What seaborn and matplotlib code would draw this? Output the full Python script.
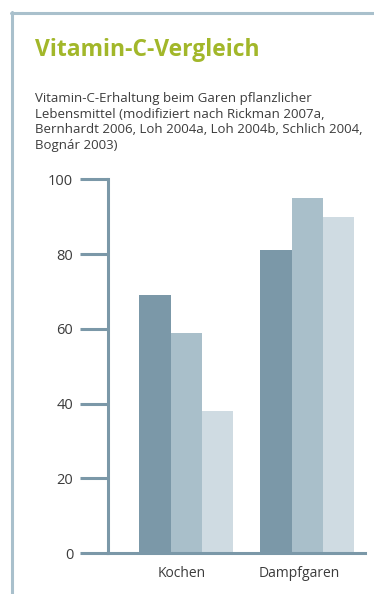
import seaborn as sns
import matplotlib.pyplot as plt
import matplotlib.transforms as mtransforms
import pandas as pd

methods = ["Kochen", "Dampfgaren"]
series = ["Studie A", "Studie B", "Studie C"]
kochen = [69, 59, 38]
dampfgaren = [81, 95, 90]
yticks = [0, 20, 40, 60, 80, 100]

colors = ["#7b98a8", "#a9bfca", "#cfdbe2"]
axis_col = "#7b98a8"
frame_col = "#a9c0cc"
text_col = "#3c3c3c"

df = pd.DataFrame({
    "Methode": [m for m in methods for _ in series],
    "Serie": series * 2,
    "Wert": kochen + dampfgaren,
})

sns.set_theme(style="white")
plt.rcParams["font.family"] = ["Open Sans", "DejaVu Sans"]

fig = plt.figure(figsize=(3.74, 5.94), dpi=100)
ax = fig.add_axes([108 / 374, 1 - 553.3 / 594, 257 / 374, 374 / 594])

sns.barplot(data=df, x="Methode", y="Wert", hue="Serie", palette=colors,
            width=0.77, gap=0, legend=False, saturation=1, linewidth=0, ax=ax)

ax.set_ylim(0, 100)
ax.set_xlim(-0.645, 1.479)
ax.set_yticks(yticks)
ax.set_xlabel("")
ax.set_ylabel("")
sns.despine(ax=ax, top=True, right=True)
for s in ["left", "bottom"]:
    ax.spines[s].set_color(axis_col)
    ax.spines[s].set_linewidth(2.2)
ax.tick_params(axis="y", direction="out", length=20, width=2.2, color=axis_col,
               labelsize=10.5, labelcolor=text_col, pad=5, left=True)
ax.tick_params(axis="x", length=0, labelsize=10, labelcolor=text_col, pad=9)
# labels sit slightly left of the group centres in the original
for t, dx in zip(ax.get_xticklabels(), [-4, -8]):
    t.set_transform(t.get_transform() + mtransforms.ScaledTranslation(dx / 100, 0, fig.dpi_scale_trans))

# frame lines
fig.add_artist(plt.Line2D([12 / 374, 12 / 374], [0, 1 - 12 / 594], color=frame_col, lw=2.2))
fig.add_artist(plt.Line2D([11 / 374, 1], [1 - 13 / 594, 1 - 13 / 594], color=frame_col, lw=2.2))

fig.text(35 / 374, 1 - 56 / 594, "Vitamin-C-Vergleich", color="#a2b72a",
         fontsize=16.5, fontweight="bold", ha="left", va="baseline")
fig.text(35 / 374, 1 - 92 / 594,
         "Vitamin-C-Erhaltung beim Garen pflanzlicher\n"
         "Lebensmittel (modifiziert nach Rickman 2007a,\n"
         "Bernhardt 2006, Loh 2004a, Loh 2004b, Schlich 2004,\n"
         "Bognár 2003)",
         color=text_col, fontsize=9.5, ha="left", va="top", linespacing=1.25)

fig.savefig("out.png", dpi=100)
